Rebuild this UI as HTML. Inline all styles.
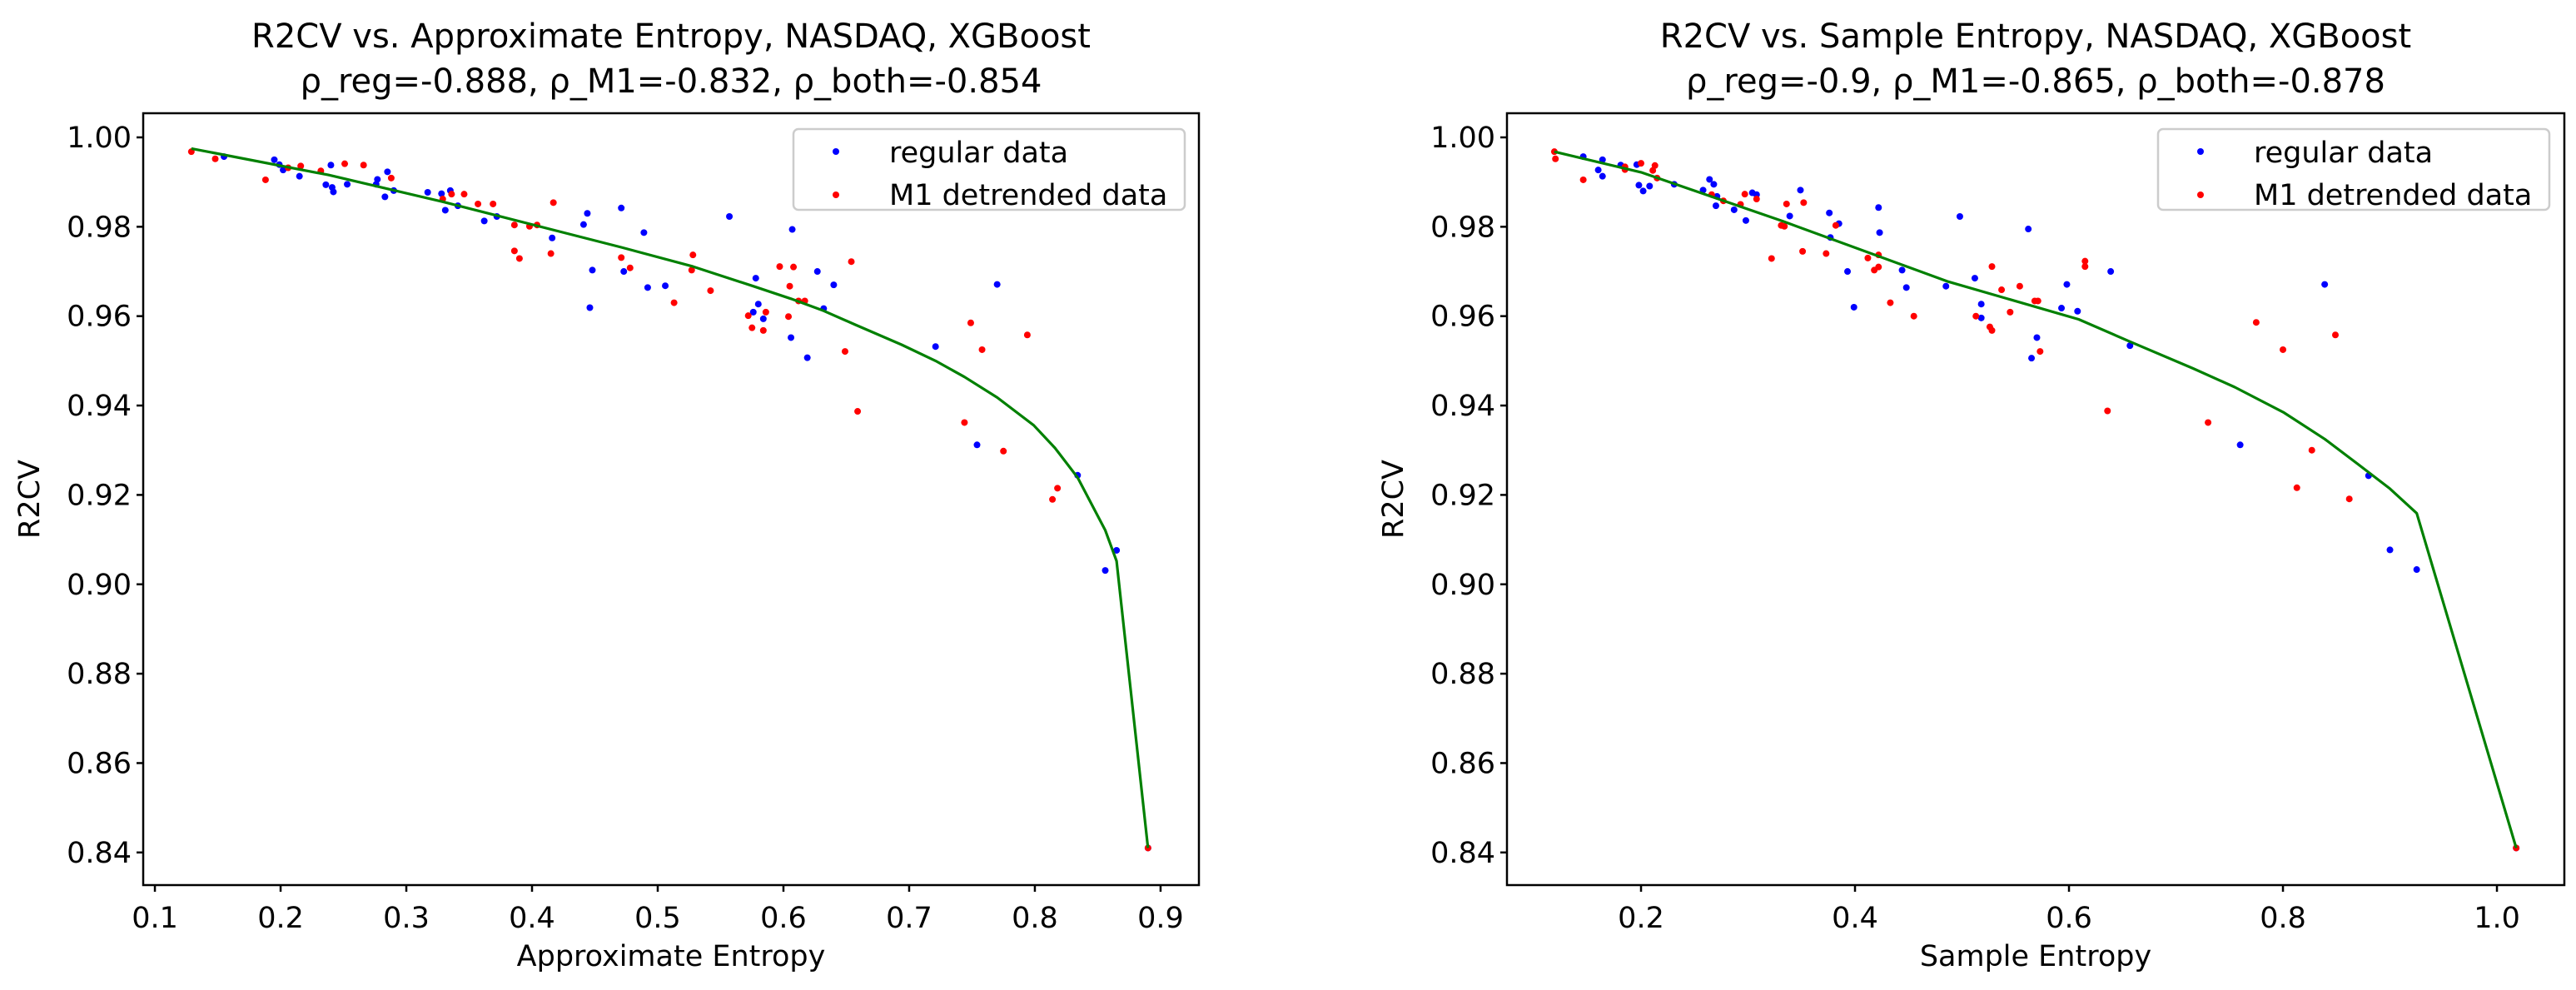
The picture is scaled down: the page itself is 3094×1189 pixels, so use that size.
<!DOCTYPE html>
<html><head><meta charset="utf-8"><style>
html,body{margin:0;padding:0;background:#fff;}
svg{display:block;font-family:"DejaVu Sans","Liberation Sans",sans-serif;}
</style></head><body>
<svg id="chart" width="3094" height="1189" viewBox="0 0 3094 1189" xmlns="http://www.w3.org/2000/svg"></svg>
<script>
// ---- Left panel data (Approximate Entropy) ----
const apRegX=[0.155,0.195,0.199,0.202,0.215,0.236,0.240,0.241,0.242,0.253,0.277,0.276,0.283,0.285,0.290,0.317,0.328,0.331,0.335,0.341,0.362,0.372,0.416,0.441,0.444,0.446,0.448,0.471,0.473,0.489,0.492,0.506,0.557,0.576,0.578,0.580,0.584,0.606,0.607,0.619,0.627,0.632,0.640,0.721,0.770,0.754,0.834,0.856,0.865,0.890];
const apRegY=[0.9957,0.9950,0.9939,0.9927,0.9913,0.9894,0.9938,0.9888,0.9878,0.9895,0.9906,0.9895,0.9867,0.9923,0.9881,0.9877,0.9874,0.9837,0.9881,0.9847,0.9813,0.9823,0.9775,0.9805,0.9830,0.9619,0.9703,0.9842,0.9700,0.9787,0.9664,0.9668,0.9823,0.9609,0.9685,0.9627,0.9594,0.9552,0.9794,0.9507,0.9700,0.9617,0.9670,0.9532,0.9671,0.9312,0.9244,0.9031,0.9076,0.8410];
const apM1X=[0.129,0.148,0.188,0.206,0.216,0.232,0.251,0.266,0.288,0.329,0.336,0.346,0.357,0.369,0.386,0.386,0.390,0.398,0.404,0.415,0.417,0.471,0.478,0.513,0.528,0.527,0.542,0.572,0.575,0.584,0.586,0.597,0.604,0.605,0.608,0.612,0.617,0.649,0.654,0.659,0.744,0.749,0.758,0.775,0.794,0.814,0.818,0.890];
const apM1Y=[0.9968,0.9952,0.9905,0.9932,0.9936,0.9925,0.9941,0.9938,0.9909,0.9862,0.9873,0.9873,0.9851,0.9851,0.9804,0.9746,0.9729,0.9801,0.9804,0.9740,0.9854,0.9731,0.9708,0.9630,0.9737,0.9703,0.9657,0.9601,0.9574,0.9568,0.9609,0.9711,0.9599,0.9667,0.9710,0.9634,0.9634,0.9521,0.9722,0.9387,0.9362,0.9585,0.9525,0.9298,0.9558,0.9190,0.9215,0.8410];
const apFitX=[0.129,0.238,0.329,0.471,0.528,0.576,0.606,0.632,0.657,0.694,0.721,0.744,0.770,0.799,0.816,0.834,0.856,0.865,0.890];
const apFitY=[0.9975,0.9916,0.9856,0.9754,0.9711,0.9667,0.9639,0.9612,0.9581,0.9536,0.9500,0.9464,0.9418,0.9356,0.9305,0.9239,0.9121,0.9052,0.8410];
const apXTicks=[0.1,0.2,0.3,0.4,0.5,0.6,0.7,0.8,0.9];
const apXTickLabels=["0.1","0.2","0.3","0.4","0.5","0.6","0.7","0.8","0.9"];
// ---- Right panel data (Sample Entropy) ----
const seRegX=[0.146,0.164,0.160,0.164,0.181,0.196,0.198,0.202,0.208,0.231,0.258,0.264,0.268,0.271,0.270,0.287,0.298,0.304,0.308,0.339,0.349,0.376,0.377,0.385,0.393,0.399,0.422,0.423,0.444,0.448,0.485,0.498,0.512,0.518,0.518,0.562,0.565,0.570,0.593,0.598,0.608,0.639,0.657,0.760,0.839,0.880,0.900,0.925,1.018];
const seRegY=[0.9957,0.9950,0.9927,0.9913,0.9938,0.9939,0.9893,0.9880,0.9891,0.9895,0.9882,0.9906,0.9895,0.9868,0.9847,0.9838,0.9814,0.9876,0.9872,0.9824,0.9882,0.9831,0.9776,0.9807,0.9700,0.9620,0.9843,0.9787,0.9703,0.9664,0.9667,0.9823,0.9685,0.9627,0.9596,0.9795,0.9506,0.9552,0.9618,0.9671,0.9611,0.9700,0.9534,0.9312,0.9671,0.9243,0.9077,0.9033,0.8410];
const seM1X=[0.119,0.120,0.146,0.185,0.185,0.200,0.211,0.213,0.215,0.266,0.277,0.293,0.297,0.308,0.322,0.331,0.334,0.336,0.351,0.352,0.373,0.382,0.412,0.418,0.422,0.422,0.433,0.455,0.513,0.526,0.528,0.528,0.537,0.545,0.554,0.568,0.571,0.573,0.615,0.615,0.636,0.730,0.775,0.800,0.813,0.827,0.849,0.862,1.018];
const seM1Y=[0.9968,0.9952,0.9905,0.9934,0.9928,0.9942,0.9926,0.9937,0.9909,0.9872,0.9858,0.9850,0.9873,0.9862,0.9729,0.9803,0.9801,0.9851,0.9745,0.9854,0.9740,0.9803,0.9730,0.9703,0.9737,0.9710,0.9630,0.9600,0.9600,0.9576,0.9568,0.9711,0.9659,0.9609,0.9667,0.9634,0.9634,0.9521,0.9723,0.9711,0.9388,0.9362,0.9586,0.9525,0.9216,0.9300,0.9558,0.9191,0.8410];
const seFitX=[0.119,0.200,0.333,0.486,0.609,0.657,0.716,0.755,0.801,0.839,0.870,0.900,0.925,1.018];
const seFitY=[0.9968,0.9922,0.9812,0.9678,0.9593,0.9543,0.9483,0.9441,0.9384,0.9325,0.9269,0.9214,0.9159,0.8410];
const seXTicks=[0.2,0.4,0.6,0.8,1.0];
const seXTickLabels=["0.2","0.4","0.6","0.8","1.0"];
// ---- shared y ticks ----
const yTicks=[0.84,0.86,0.88,0.90,0.92,0.94,0.96,0.98,1.00];
const yTickLabels=["0.84","0.86","0.88","0.90","0.92","0.94","0.96","0.98","1.00"];

const NS="http://www.w3.org/2000/svg";
const svg=document.getElementById('chart');
function mk(tag,attrs,parent){const e=document.createElementNS(NS,tag);for(const k in attrs)e.setAttribute(k,attrs[k]);(parent||svg).appendChild(e);return e;}

function panel(p){
  const g=mk('g',{});
  
  
  const sx=v=>p.x0+(v-p.xd[0])/(p.xd[1]-p.xd[0])*(p.x1-p.x0);
  const sy=v=>p.y1-(v-p.yd[0])/(p.yd[1]-p.yd[0])*(p.y1-p.y0);
  const t1=mk('text',{x:(p.x0+p.x1)/2,y:57,'text-anchor':'middle','font-size':40},g);
  t1.textContent=p.title1;
  
  
  const t2=mk('text',{x:(p.x0+p.x1)/2,y:111,'text-anchor':'middle','font-size':40},g);
  t2.textContent=p.title2;
  
  
  p.xt.forEach((v,i)=>{
    const x=sx(v);
    const tk=mk('line',{x1:x,x2:x,y1:p.y1,y2:p.y1+8,stroke:'#000','stroke-width':2.5},g);
    
    
    const tl=mk('text',{x:x,y:p.y1+51,'text-anchor':'middle','font-size':35},g);
    tl.textContent=p.xl[i];
    
    
  });
  yTicks.forEach((v,i)=>{
    const y=sy(v);
    const tk=mk('line',{x1:p.x0-8,x2:p.x0,y1:y,y2:y,stroke:'#000','stroke-width':2.5},g);
    
    
    const tl=mk('text',{x:p.x0-14,y:y+12,'text-anchor':'end','font-size':35},g);
    tl.textContent=yTickLabels[i];
    
    
  });
  const xl=mk('text',{x:(p.x0+p.x1)/2,y:1160,'text-anchor':'middle','font-size':35},g);
  xl.textContent=p.xlabel;
  
  
  const yl=mk('text',{x:0,y:0,'text-anchor':'middle','font-size':35,transform:`translate(${p.x0-125},${(p.y0+p.y1)/2}) rotate(-90)`},g);
  yl.textContent='R2CV';
  
  
  p.rx.forEach((v,i)=>{
    const c=mk('circle',{cx:sx(v),cy:sy(p.ry[i]),r:4,fill:'#0000ff'},g);
    
    
  });
  p.mx.forEach((v,i)=>{
    const c=mk('circle',{cx:sx(v),cy:sy(p.my[i]),r:4,fill:'#ff0000'},g);
    
    
  });
  const pts=p.fx.map((v,i)=>sx(v).toFixed(1)+','+sy(p.fy[i]).toFixed(1)).join(' ');
  const pl=mk('polyline',{points:pts,fill:'none',stroke:'#008000','stroke-width':3.2,'stroke-linejoin':'round'},g);
  
  
  const fr=mk('rect',{x:p.x0,y:p.y0,width:p.x1-p.x0,height:p.y1-p.y0,fill:'none',stroke:'#000','stroke-width':2.5},g);
  
  
  const lg=mk('g',{},g);
  
  
  mk('rect',{x:p.lx,y:155,width:470,height:97,rx:6,fill:'#fff','fill-opacity':0.8,stroke:'#cccccc','stroke-width':2.5},lg);
  const e1=mk('circle',{cx:p.lx+51,cy:182,r:4,fill:'#0000ff'},lg);
  
  
  const l1=mk('text',{x:p.lx+115,y:195,'font-size':35},lg);
  l1.textContent='regular data';
  
  
  const e2=mk('circle',{cx:p.lx+51,cy:234,r:4,fill:'#ff0000'},lg);
  
  
  const l2=mk('text',{x:p.lx+115,y:246,'font-size':35},lg);
  l2.textContent='M1 detrended data';
  
  
}
panel({id:'approximate-entropy',x0:172,x1:1440,y0:136,y1:1063,xd:[0.0907,0.9305],yd:[0.8327,1.0054],
  title1:'R2CV vs. Approximate Entropy, NASDAQ, XGBoost',title2:'ρ_reg=-0.888, ρ_M1=-0.832, ρ_both=-0.854',
  xlabel:'Approximate Entropy',xt:apXTicks,xl:apXTickLabels,rx:apRegX,ry:apRegY,mx:apM1X,my:apM1Y,fx:apFitX,fy:apFitY,lx:953});
panel({id:'sample-entropy',x0:1810,x1:3080,y0:136,y1:1063,xd:[0.0747,1.063],yd:[0.8327,1.0054],
  title1:'R2CV vs. Sample Entropy, NASDAQ, XGBoost',title2:'ρ_reg=-0.9, ρ_M1=-0.865, ρ_both=-0.878',
  xlabel:'Sample Entropy',xt:seXTicks,xl:seXTickLabels,rx:seRegX,ry:seRegY,mx:seM1X,my:seM1Y,fx:seFitX,fy:seFitY,lx:2592});
</script>
</body></html>
